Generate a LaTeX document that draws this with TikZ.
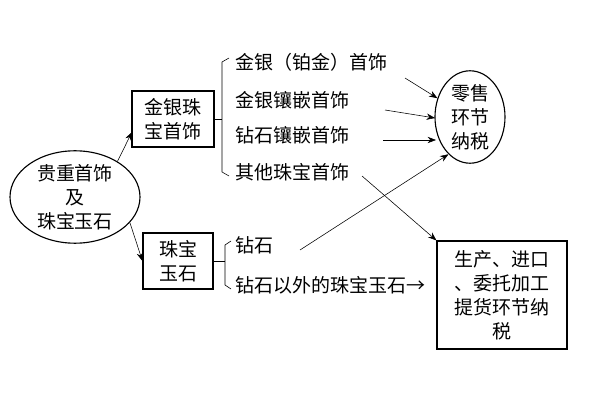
\documentclass[tikz,border=0pt]{standalone}
\usepackage{fontspec}
\setmainfont{Noto Sans CJK SC}
\usetikzlibrary{shapes.geometric,arrows.meta}
\tikzset{
  catbox/.style={draw,thick,align=center,inner sep=2pt,font=\fontsize{13.5pt}{17pt}\selectfont},
  item/.style={anchor=west,inner sep=1pt,font=\fontsize{13.5pt}{17pt}\selectfont},
  oval/.style={ellipse,draw,thick,align=center,inner sep=0pt,font=\fontsize{13.5pt}{17pt}\selectfont},
  arr/.style={-{Stealth[length=6pt]},thin},
}
\begin{document}
\begin{tikzpicture}[x=0.025cm,y=-0.025cm]
\useasboundingbox (0,0) rectangle (600,400);
\node[oval,minimum width=130*0.025cm,minimum height=88*0.025cm] (root) at (75,197) {贵重首饰\\及\\珠宝玉石};
\node[catbox,minimum width=82*0.025cm,minimum height=56*0.025cm] (jew) at (173,119) {金银珠\\宝首饰};
\node[catbox,minimum width=70*0.025cm,minimum height=56*0.025cm] (gem) at (178,261) {珠宝\\玉石};
\node[oval,minimum width=70*0.025cm,minimum height=88*0.025cm] (retail) at (470,117) {零售\\环节\\纳税};
\node[catbox,minimum width=130*0.025cm,minimum height=108*0.025cm] (prod) at (502,295) {生产、进口\\、委托加工\\提货环节纳\\税};
% items
\node[item] (i1) at (234,62) {金银（铂金）首饰};
\node[item] (i2) at (234,100) {金银镶嵌首饰};
\node[item] (i3) at (234,135) {钻石镶嵌首饰};
\node[item] (i4) at (234,172) {其他珠宝首饰};
\node[item] (g1) at (234,245) {钻石};
\node[item] (g2) at (234,285) {钻石以外的珠宝玉石→};
% brackets
\coordinate (b1t) at (222,62);
\coordinate (b1b) at (222,172);
\draw (jew.east) -- (222,119);
\draw (229,58) -- (b1t) -- (b1b) -- (229,176);
\draw (gem.east) -- (225,261);
\draw (231,241) -- (225,245) -- (225,285) -- (231,289);
% arrows
\draw[arr] (root.40) -- (132,132);
\draw[arr] (root.-25) -- (gem.west);
\draw[arr] (405,78) -- (retail.150);
\draw[arr] (385,110) -- (435,118);
\draw[arr] (383,140) -- (436,140);
\draw[arr] (362,176) -- (prod.north west);
\draw[arr] (300,250) -- (retail.-120);
\end{tikzpicture}
\end{document}
